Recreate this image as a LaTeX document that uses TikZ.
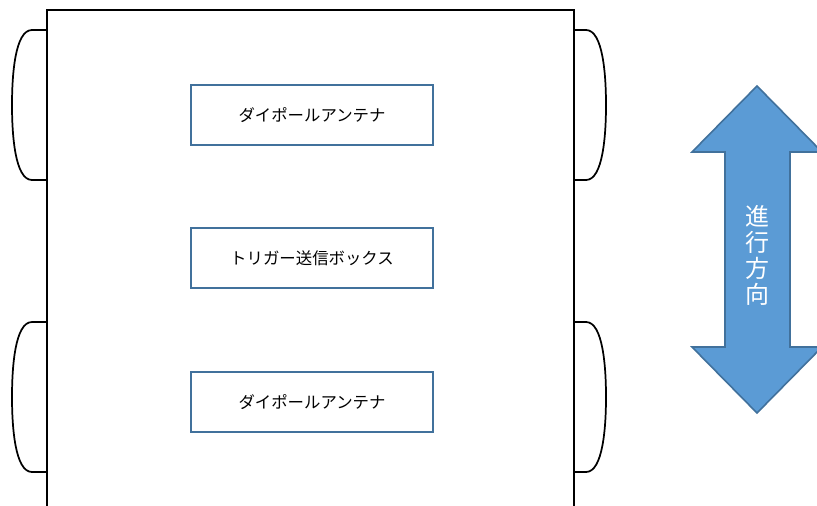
\documentclass[tikz,border=0pt]{standalone}
\usepackage{fontspec}
\setmainfont{Noto Sans CJK JP}
\definecolor{boxline}{HTML}{41719C}
\definecolor{arrowfill}{HTML}{5B9BD5}
\begin{document}
\begin{tikzpicture}[x=0.75pt,y=-0.75pt,
  frame/.style={draw=black,line width=1.3pt},
  wheel/.style={draw=black,line width=1.3pt},
  labelbox/.style={draw=boxline,line width=1.5pt,fill=white,minimum width=242*0.75pt,minimum height=60*0.75pt,inner sep=0pt,font=\fontsize{12.3pt}{14pt}\selectfont},
]
\useasboundingbox (0,0) rectangle (817,506);
% body
\draw[frame] (47,507) -- (47,10) -- (574,10) -- (574,507);
% wheels left
\draw[wheel] (47,30) -- (32,30) .. controls (15,30) and (12,75) .. (12,105) .. controls (12,135) and (15,180) .. (32,180) -- (47,180);
\draw[wheel] (47,322) -- (32,322) .. controls (15,322) and (12,367) .. (12,397) .. controls (12,427) and (15,472) .. (32,472) -- (47,472);
% wheels right
\draw[wheel] (574,30) -- (586,30) .. controls (603,30) and (606,75) .. (606,105) .. controls (606,135) and (603,180) .. (586,180) -- (574,180);
\draw[wheel] (574,322) -- (586,322) .. controls (603,322) and (606,367) .. (606,397) .. controls (606,427) and (603,472) .. (586,472) -- (574,472);
% boxes
\node[labelbox] (ant1) at (312,115) {ダイポールアンテナ};
\node[labelbox] (trig) at (312,258) {トリガー送信ボックス};
\node[labelbox] (ant2) at (312,402) {ダイポールアンテナ};
% direction arrow
\draw[draw=boxline,fill=arrowfill,line width=1.2pt]
  (757,86) -- (822,152) -- (790,152) -- (790,347) -- (822,347) -- (757,413)
  -- (692,347) -- (725,347) -- (725,152) -- (692,152) -- cycle;
\node[text=white,align=center,font=\fontsize{18pt}{19.5pt}\selectfont,inner sep=0pt] (dir) at (757,255) {進\\行\\方\\向};
\end{tikzpicture}
\end{document}
